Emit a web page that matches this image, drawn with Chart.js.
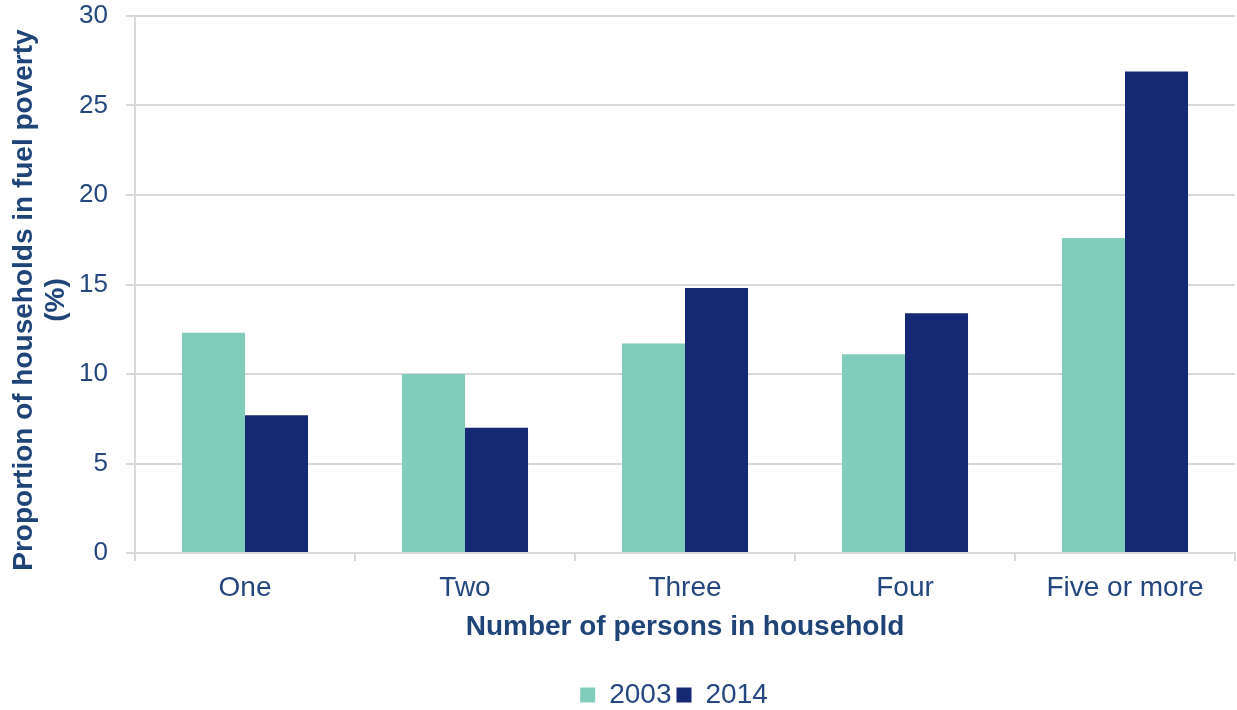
<!DOCTYPE html>
<html>
<head>
<meta charset="utf-8">
<script src="https://cdn.jsdelivr.net/npm/chart.js@4"></script>
<style>
  html, body { margin: 0; padding: 0; background: #ffffff; overflow: hidden; }
  #wrap { width: 1237px; height: 710px; position: relative; overflow: hidden; }
  #c { position: absolute; left: 0; top: -15px; }
</style>
</head>
<body>
<div id="wrap"><canvas id="c" width="1237" height="734"></canvas></div>
<script>
const categories = ["One", "Two", "Three", "Four", "Five or more"];
const values2003 = [12.3, 10.0, 11.7, 11.1, 17.6];
const values2014 = [7.7, 7.0, 14.8, 13.4, 26.9];
const seriesLabels = ["2003", "2014"];
const yTicks = [0, 5, 10, 15, 20, 25, 30];
const yTitleLines = ["Proportion of households in fuel poverty    ", "(%)    "];
const xTitle = "Number of persons in household";

const textColor = "#24477f";
const titleColor = "#1f4478";
const gridColor = "#d9d9d9";
const fontFamily = "'Liberation Sans', Arial, sans-serif";
const legendShift = -11;

const legendNudge = {
  id: "legendNudge",
  afterLayout(chart) {
    if (chart.legend) {
      chart.legend.left += legendShift;
      chart.legend.right += legendShift;
    }
  }
};

new Chart(document.getElementById("c"), {
  type: "bar",
  data: {
    labels: categories,
    datasets: [
      { label: seriesLabels[0], data: values2003, backgroundColor: "#80cdbc", borderWidth: 0 },
      { label: seriesLabels[1], data: values2014, backgroundColor: "#152873", borderWidth: 0 }
    ]
  },
  plugins: [legendNudge],
  options: {
    responsive: false,
    animation: false,
    devicePixelRatio: 1,
    layout: { padding: { top: 0, right: 2, left: 6, bottom: 0 } },
    datasets: { bar: { barPercentage: 1.0, categoryPercentage: 0.573 } },
    plugins: {
      legend: {
        position: "bottom",
        fullSize: false,
        labels: {
          color: textColor,
          font: { family: fontFamily, size: 28 },
          boxWidth: 15,
          boxHeight: 15,
          padding: 5
        }
      },
      tooltip: { enabled: false }
    },
    scales: {
      x: {
        grid: { drawOnChartArea: false, drawTicks: true, tickLength: 8, color: gridColor, offset: true, lineWidth: 2 },
        border: { color: gridColor, width: 2 },
        ticks: { color: textColor, font: { family: fontFamily, size: 28 }, padding: 10 },
        title: {
          display: true,
          text: xTitle,
          color: titleColor,
          font: { family: fontFamily, size: 28, weight: "bold" },
          padding: { top: 4, bottom: 32 }
        },
        afterFit: (scale) => { scale.height = 123; }
      },
      y: {
        min: 0,
        max: 30,
        afterBuildTicks: (scale) => { scale.ticks = yTicks.map(v => ({ value: v })); },
        grid: { color: gridColor, lineWidth: 2, tickLength: 9, drawTicks: true },
        border: { color: gridColor, width: 2 },
        ticks: { color: textColor, font: { family: fontFamily, size: 26, lineHeight: 1.0 }, padding: 18, autoSkip: false },
        title: {
          display: true,
          text: yTitleLines,
          color: titleColor,
          font: { family: fontFamily, size: 28, weight: "bold", lineHeight: 1.125 },
          padding: { top: 3, bottom: 4 }
        },
        afterFit: (scale) => { scale.width = 129; }
      }
    }
  }
});
</script>
</body>
</html>
